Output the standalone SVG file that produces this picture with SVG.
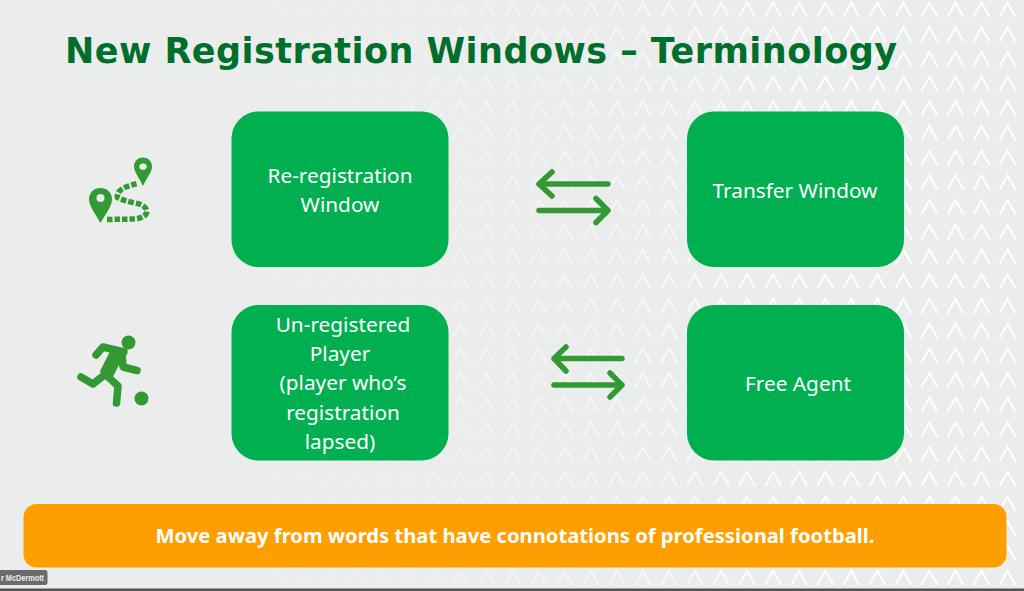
<svg xmlns="http://www.w3.org/2000/svg" width="1024" height="591" viewBox="0 0 1024 591">
<style>
.box{fill:#00b050}
.t{font-family:"Noto Sans","Open Sans",sans-serif;font-size:20.8px;fill:#fff;text-anchor:middle}
.arr{fill:none;stroke:#339933;stroke-width:5.5;stroke-linecap:round;stroke-linejoin:round}
.ic{fill:#339933}
.limb{fill:none;stroke:#339933;stroke-width:7.5;stroke-linecap:round;stroke-linejoin:round}
.torso{fill:none;stroke:#339933;stroke-width:14;stroke-linecap:butt}
</style>
<defs>
<pattern id="chev" patternUnits="userSpaceOnUse" x="525.700" y="-0.500" width="26.050" height="24.700">
<path d="M5 17.500L13 3L21 17.500" fill="none" stroke="#fff" stroke-width="2"/>
</pattern>
<linearGradient id="fade" x1="0" y1="0" x2="1" y2="0">
<stop offset="0.18" stop-color="#000"/>
<stop offset="0.58" stop-color="#888"/>
<stop offset="0.8" stop-color="#fff"/>
</linearGradient>
<mask id="m" maskUnits="userSpaceOnUse" x="0" y="0" width="1024" height="591"><rect width="1024" height="591" fill="url(#fade)"/></mask>
</defs>
<g id="background">
<rect width="1024" height="591" fill="#ebecec"/>
<rect width="1024" height="588" fill="url(#chev)" mask="url(#m)"/>
<rect y="588.500" width="1024" height="2.500" fill="#555"/>
</g>
<text id="title" x="65" y="63" font-family="'DejaVu Sans',sans-serif" font-weight="700" font-size="35" fill="#006f2b" textLength="832" lengthAdjust="spacing">New Registration Windows – Terminology</text>
<g id="icon-route">
<path class="ic" fill-rule="evenodd" d="M100.500 188C93 188 89 193.500 89 199.500C89 206 96 215 100.500 223C105 215 112 206 112 199.500C112 193.500 108 188 100.500 188ZM100.500 194A4 4 0 1 1 100.500 202A4 4 0 1 1 100.500 194Z"/>
<path class="ic" fill-rule="evenodd" d="M143 157.500C137.500 157.500 134 161.500 134 166.500C134 172 140 179 143 186C146 179 152 172 152 166.500C152 161.500 148.500 157.500 143 157.500ZM143 163.500A3.200 3.200 0 1 1 143 169.800A3.200 3.200 0 1 1 143 163.500Z"/>
<path d="M107 219.500L136 219Q146.500 217 147 211.500Q146 205 135 203Q123 200.500 117.500 197.500Q116 191 127 186.500L137 183.500" fill="none" stroke="#339933" stroke-width="5.500" stroke-dasharray="5.500 2"/>
</g>
<g id="icon-player">
<circle class="ic" cx="128.500" cy="342.500" r="7"/>
<circle class="ic" cx="141.500" cy="398.500" r="7"/>
<path class="limb" d="M96 355L103 347L124 352"/>
<path class="limb" d="M122 353L123 367L137 370.500"/>
<path class="torso" d="M117 353L106 375"/>
<path class="limb" d="M81 377L93 384L103 376"/>
<path class="limb" d="M105 374L118 386L116.500 403"/>
</g>
<g id="node-reregistration">
<rect class="box" x="231.500" y="111.500" width="217" height="155.500" rx="27"/>
<text class="t" x="340" y="183">Re-registration</text>
<text class="t" x="340" y="212">Window</text>
</g>
<g id="node-transfer">
<rect class="box" x="687" y="111.500" width="217" height="155.500" rx="27"/>
<text class="t" x="795" y="198">Transfer Window</text>
</g>
<g id="node-unregistered">
<rect class="box" x="231.500" y="305" width="217" height="155.500" rx="27"/>
<text class="t" x="343" y="332">Un-registered</text>
<text class="t" x="340" y="361">Player</text>
<text class="t" x="343" y="390">(player who’s</text>
<text class="t" x="343" y="420">registration</text>
<text class="t" x="340" y="449">lapsed)</text>
</g>
<g id="node-free-agent">
<rect class="box" x="687" y="305" width="217" height="155.500" rx="27"/>
<text class="t" x="798" y="391">Free Agent</text>
</g>
<g id="connectors">
<path class="arr" d="M608 184H539M552 172L539 184L552 196"/>
<path class="arr" d="M539 210.500H608M596 198.500L608 210.500L596 222.500"/>
<path class="arr" d="M622 358.500H554M566 347L554 358.500L566 371"/>
<path class="arr" d="M554 385H622M610 373L622 385L610 397"/>
</g>
<g id="banner">
<rect x="23.500" y="504" width="983" height="63.500" rx="13" fill="#ff9e00"/>
<text x="515" y="543" font-family="'Noto Sans','Open Sans',sans-serif" font-weight="700" font-size="20.200" fill="#fff" text-anchor="middle">Move away from words that have connotations of professional football.</text>
</g>
<g id="name-tag">
<rect x="-6" y="570" width="53.500" height="15" rx="2.500" fill="#6b6b6b"/>
<text x="1" y="581" font-family="'Liberation Sans',sans-serif" font-size="8.500" font-weight="700" fill="#eee" textLength="43" lengthAdjust="spacingAndGlyphs">r McDermott</text>
</g>
</svg>
